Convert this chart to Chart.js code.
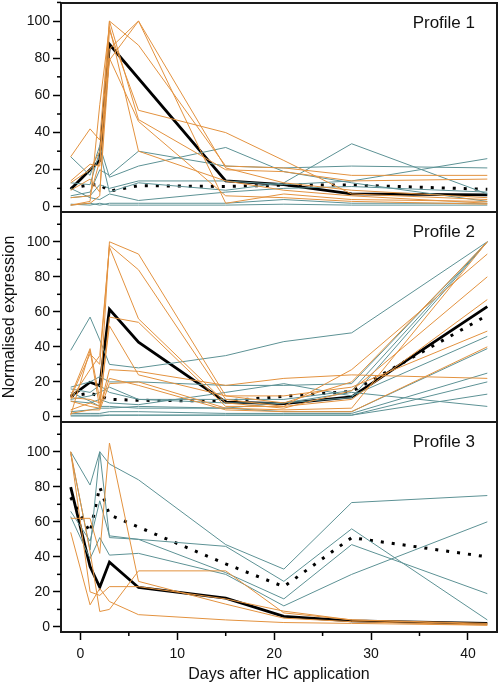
<!DOCTYPE html>
<html>
<head>
<meta charset="utf-8">
<script src="https://cdn.jsdelivr.net/npm/chart.js@4.4.1/dist/chart.umd.min.js"></script>
<style>
body { margin: 0; background: #fff; }
#wrap { position: relative; width: 499px; height: 684px; }
canvas { position: absolute; left: 0; }
</style>
</head>
<body>
<div id="wrap">
  <canvas id="p1" width="499" height="216" style="top:0px"></canvas>
  <canvas id="p2" width="499" height="218" style="top:208px"></canvas>
  <canvas id="p3" width="499" height="266" style="top:418px"></canvas>
</div>
<script>
// sampling days (x)
const days = [-1, 1, 2, 3, 6, 15, 21, 28, 42];
const xMajor = [0, 10, 20, 30, 40];
const xMinor = [5, 15, 25, 35];
const yMajor = [0, 20, 40, 60, 80, 100];
const yMinor = [10, 30, 50, 70, 90, 110];

// Profile 1
const p1Orange = [
  [27, 42, 36, 100, 87, 22, 21, 17, 17],
  [14, 23, 22, 100, 47, 20, 19, 14, 15],
  [13, 20, 30, 79, 100, 21, 13, 9, 5],
  [5, 6, 25, 85, 100, 2, 7, 4, 3],
  [1, 2, 6, 95, 52, 40, 25, 7, 4],
  [1, 3, 55, 97, 30, 14, 9, 6, 2],
  [9, 15, 8, 80, 46, 6, 5, 3, 1.5]
];
const p1Teal = [
  [27, 17, 33, 16, 22, 32, 19, 13, 3],
  [13, 12, 30, 8, 13, 9, 13, 34, 7],
  [6, 8, 20, 17, 30, 22, 21, 22, 21],
  [5, 6, 12, 10, 14, 14, 12, 14, 26],
  [10, 5, 4, 7, 3.5, 8, 10, 11, 8],
  [1.5, 1, 2, 1, 1, 1, 1.5, 1, 1],
  [1, 2, 1, 2, 2, 2, 4, 2, 2]
];
const p1Mean = [9.5, 20, 25, 87.5, null, 14, 12, 7, 6.5];
const p1Dotted = [10, 12, 12, 8.5, 11.5, 11, 11.8, 11.8, 9.5];

// Profile 2
const p2Orange = [
  [12, 39, 10, 100, 93, 12, 8, 20, 100],
  [11, 36, 30, 98, 84, 10, 6, 27, 93],
  [10, 27, 35, 97, 56, 8, 5, 15, 80],
  [1, 38, 5, 57, 54, 6, 6, 10, 67],
  [11, 10, 8, 52, 24, 12, 12, 17, 49],
  [9, 6, 5, 27, 26, 18, 22, 24, 22],
  [2, 4, 4, 19, 20, 5, 4, 5, 100],
  [4, 8, 6, 22, 18, 4, 3, 3, 40]
];
const p2Teal = [
  [38, 57, 44, 30, 28, 35, 43, 48, 100],
  [17, 20, 23, 20, 20, 18, 18, 19, 100],
  [16, 14, 18, 14, 10, 10, 10, 15, 100],
  [10, 12, 14, 17, 10, 8, 8, 11, 100],
  [9, 8, 10, 8, 7, 14, 19, 12, 46],
  [3, 4, 5, 5, 6, 5, 3, 3, 39],
  [2, 2, 2, 3, 3, 2, 2, 2, 25],
  [1, 1, 1, 1, 1, 1, 1, 1, 13],
  [14, 9, 6, 6, 5, 5, 8, 14, 6],
  [0.5, 0.5, 0.5, 1, 1, 1, 1, 1, 20]
];
const p2Mean = [11.6, 19.8, 17.7, 61.5, 42.7, 8.5, 7.6, 11.4, 63];
const p2Dotted = [12, 13.5, 12, 10, 9.5, 9, 11.8, 14.5, 58];

// Profile 3
const p3Orange = [
  [62, 62, 42, 105, 26, 13, 5, 3, 1],
  [100, 20, 18, 23, 23, 16, 9, 4, 2],
  [100, 43, 8.8, 10, 32, 32, 8, 4, 1.5],
  [54, 12.6, 22, 14.5, 7, 4, 2.5, 2, 1]
];
const p3Teal = [
  [100, 81, 100, 93, 84, 47, 33, 71, 75],
  [99, 44, 100, 51, 50, 46, 26, 56, 4],
  [66, 49, 72, 52, 50, 31, 16, 47, 19],
  [63, 39, 51, 41, 42, 30, 12, 30, 60]
];
const p3Mean = [79.8, 34.5, 22.7, 37, 22.5, 16.4, 6, 3.4, 2];
const p3Dotted = [74, 54, 80, 64, 57, 36, 23, 51, 40];

const orange = '#E3923F';
const teal = '#5D9295';
const frame = '#1a1a1a';
const fontFamily = "'Liberation Sans', Arial, sans-serif";

Chart.defaults.font.family = fontFamily;
Chart.defaults.color = '#111';

function toPoints(values){
  return days.map((d, i) => ({x: d, y: values[i]})).filter(p => p.y !== null);
}

// fixed axis box, no label overhang padding
function fixBox(w, h){
  return s => {
    if (w !== null) s.width = w;
    if (h !== null) s.height = h;
    s.paddingTop = 0; s.paddingBottom = 0;
    s.paddingLeft = 0; s.paddingRight = 0;
  };
}

// short ticks between the labelled ones, and the panel name
const panelExtras = {
  id: 'panelExtras',
  afterDraw(chart, args, opts){
    const {ctx, chartArea} = chart;
    const y = chart.scales.y;
    ctx.save();
    ctx.strokeStyle = '#000';
    ctx.lineWidth = 1.5;
    yMinor.forEach(v => {
      if (v > y.max + 0.5) return;
      const py = Math.min(y.getPixelForValue(v), chartArea.bottom);
      ctx.beginPath();
      ctx.moveTo(chartArea.left - 4, py);
      ctx.lineTo(chartArea.left, py);
      ctx.stroke();
    });
    if (opts.bottom){
      const x = chart.scales.x;
      xMinor.forEach(v => {
        const px = x.getPixelForValue(v);
        ctx.beginPath();
        ctx.moveTo(px, chartArea.bottom);
        ctx.lineTo(px, chartArea.bottom + 4);
        ctx.stroke();
      });
    }
    ctx.font = '17px ' + fontFamily;
    ctx.fillStyle = '#111';
    ctx.textAlign = 'right';
    ctx.textBaseline = 'top';
    ctx.fillText(opts.text, chartArea.right - 22, chartArea.top + 12);
    ctx.restore();
  }
};

function buildPanel(id, oranges, teals, mean, dotted, yMin, yMax, label, isBottom, showTitle){
  const datasets = [];
  oranges.forEach(v => datasets.push({data: toPoints(v), borderColor: orange, borderWidth: 1}));
  teals.forEach(v => datasets.push({data: toPoints(v), borderColor: teal, borderWidth: 1}));
  datasets.push({data: toPoints(mean), borderColor: '#000', borderWidth: 2.8});
  datasets.push({data: toPoints(dotted), borderColor: '#000', borderWidth: 3, borderDash: [3, 8], borderCapStyle: 'butt'});

  new Chart(document.getElementById(id), {
    type: 'line',
    data: {datasets: datasets},
    options: {
      responsive: false,
      animation: false,
      layout: {padding: {top: id === 'p1' ? 3 : 4, right: 2, bottom: isBottom ? 0 : 4, left: 0}},
      elements: {point: {radius: 0}, line: {tension: 0, fill: false}},
      plugins: {
        legend: {display: false},
        tooltip: {enabled: false},
        panelExtras: {text: label, bottom: isBottom}
      },
      scales: {
        x: {
          type: 'linear', position: 'bottom', min: -2, max: 43,
          afterBuildTicks: s => { s.ticks = xMajor.map(v => ({value: v})); },
          afterFit: fixBox(null, isBottom ? 52 : 0),
          ticks: {display: isBottom, font: {size: 14}, padding: 6, maxRotation: 0},
          grid: {display: isBottom, drawOnChartArea: false, tickLength: 8, tickColor: '#000', tickWidth: 1.5},
          border: {display: true, color: frame, width: 2},
          title: {display: isBottom, text: 'Days after HC application', font: {size: 16}, padding: 0}
        },
        xTop: {
          type: 'linear', position: 'top', min: -2, max: 43,
          afterFit: fixBox(null, 0),
          ticks: {display: false},
          grid: {display: false},
          border: {display: true, color: frame, width: 2}
        },
        y: {
          type: 'linear', position: 'left', min: yMin, max: yMax,
          afterBuildTicks: s => { s.ticks = yMajor.map(v => ({value: v})); },
          afterFit: fixBox(61, null),
          ticks: {font: {size: 14}, padding: 3},
          grid: {display: true, drawOnChartArea: false, tickLength: 8, tickColor: '#000', tickWidth: 1.5},
          border: {display: true, color: frame, width: 2},
          title: {display: showTitle, text: 'Normalised expression', font: {size: 16}, padding: 0}
        },
        yRight: {
          type: 'linear', position: 'right', min: yMin, max: yMax,
          afterFit: fixBox(0, null),
          ticks: {display: false},
          grid: {display: false},
          border: {display: true, color: frame, width: 2}
        }
      }
    },
    plugins: [panelExtras]
  });
}

buildPanel('p1', p1Orange, p1Teal, p1Mean, p1Dotted, -2.7, 109.7, 'Profile 1', false, false);
buildPanel('p2', p2Orange, p2Teal, p2Mean, p2Dotted, -2.9, 117, 'Profile 2', false, true);
buildPanel('p3', p3Orange, p3Teal, p3Mean, p3Dotted, -2.9, 117, 'Profile 3', true, false);
</script>
</body>
</html>
